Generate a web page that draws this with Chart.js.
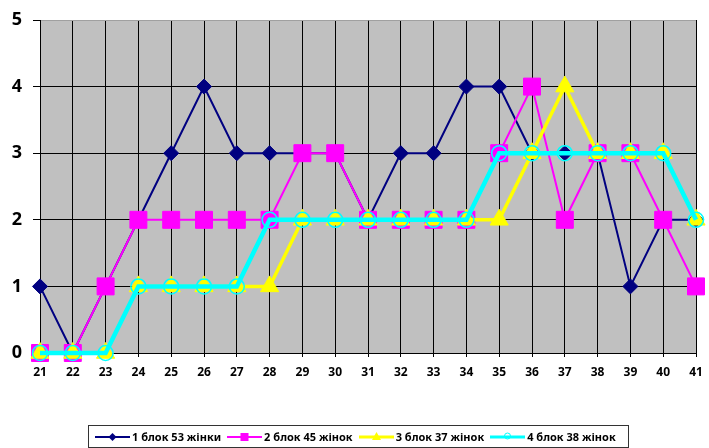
<!DOCTYPE html>
<html>
<head>
<meta charset="utf-8">
<script src="https://cdn.jsdelivr.net/npm/chart.js@4.4.0/dist/chart.umd.min.js"></script>
<style>
  body { margin: 0; background: #fff; }
  #wrap { position: relative; width: 709px; height: 448px; }
  #legend {
    position: absolute; left: 88px; top: 425px; width: 541px; height: 23px;
    box-sizing: border-box; border: 1px solid #333;
    display: flex; align-items: center; padding-left: 6px;
    font: bold 11px "Noto Sans", Arial, sans-serif; color: #000; white-space: nowrap;
  }
  .item { display: flex; align-items: center; margin-right: 6px; }
  .item svg { margin-right: 2px; }
</style>
</head>
<body>
<div id="wrap">
  <canvas id="myChart" width="709" height="448"></canvas>
  <div id="legend"></div>
</div>
<script>
// data
const labels = ['21','22','23','24','25','26','27','28','29','30','31','32','33','34','35','36','37','38','39','40','41'];
const blok1 = [1,0,1,2,3,4,3,3,3,3,2,3,3,4,4,3,3,3,1,2,2];
const blok2 = [0,0,1,2,2,2,2,2,3,3,2,2,2,2,3,4,2,3,3,2,1];
const blok3 = [0,0,0,1,1,1,1,1,2,2,2,2,2,2,2,3,4,3,3,3,2];
const blok4 = [0,0,0,1,1,1,1,2,2,2,2,2,2,2,3,3,3,3,3,3,2];
const names = ['1 блок 53 жінки', '2 блок 45 жінок', '3 блок 37 жінок', '4 блок 38 жінок'];

// plot area background
const plotBg = {
  id: 'plotBg',
  beforeDraw(chart) {
    const a = chart.chartArea, c = chart.ctx;
    c.save();
    c.fillStyle = '#c0c0c0';
    c.fillRect(a.left, a.top, a.right - a.left, a.bottom - a.top);
    c.restore();
  }
};

Chart.defaults.font.family = '"Noto Sans", Arial, sans-serif';
Chart.defaults.color = '#000';

new Chart('myChart', {
  type: 'line',
  data: {
    labels: labels,
    datasets: [{
      label: names[0], data: blok1,
      borderColor: '#000080', backgroundColor: '#000080', borderWidth: 2,
      pointStyle: 'rectRot', pointRadius: 7.5, pointBorderWidth: 1,
      order: 3, clip: false
    }, {
      label: names[1], data: blok2,
      borderColor: '#ff00ff', backgroundColor: '#ff00ff', borderWidth: 2,
      pointStyle: 'rect', pointRadius: 12, pointBorderWidth: 1,
      order: 2, clip: false
    }, {
      label: names[2], data: blok3,
      borderColor: '#ffff00', backgroundColor: '#ffff00', borderWidth: 3.5,
      pointStyle: 'triangle', pointRadius: 10.5, pointBorderWidth: 1,
      order: 1, clip: false
    }, {
      label: names[3], data: blok4,
      borderColor: '#00ffff', backgroundColor: 'rgba(0,0,0,0)', borderWidth: 4.5,
      pointStyle: 'circle', pointRadius: 7.5, pointBorderWidth: 1.5,
      order: 0, clip: false
    }]
  },
  options: {
    responsive: false,
    devicePixelRatio: 1,
    animation: false,
    events: [],
    layout: { padding: { top: 20, right: 4.5, left: 0, bottom: 0 } },
    plugins: { legend: { display: false }, tooltip: { enabled: false } },
    scales: {
      x: {
        offset: false,
        grid: { color: '#000', lineWidth: 1, tickLength: 4, tickColor: '#000' },
        border: { color: '#000', width: 1 },
        ticks: { font: { size: 12, weight: 'bold' }, color: '#000', padding: 8, autoSkip: false, maxRotation: 0 },
        afterFit(s) { s.height = 95; s.paddingLeft = 0; s.paddingRight = 0; }
      },
      y: {
        min: 0, max: 5,
        grid: {
          color: (ctx) => ctx.tick && ctx.tick.value === 5 ? '#a0a0a0' : '#000',
          lineWidth: 1, tickLength: 7, tickColor: '#000'
        },
        border: { color: '#000', width: 1 },
        ticks: { stepSize: 1, font: { size: 18, weight: 'bold' }, color: '#000', padding: 11 },
        afterFit(s) { s.width = 40; s.paddingTop = 0; s.paddingBottom = 0; }
      }
    }
  },
  plugins: [plotBg]
});

// legend
const icons = [
  '<line x1="0" y1="6" x2="35" y2="6" stroke="#000080" stroke-width="2"/><polygon points="17.5,2 21.5,6 17.5,10 13.5,6" fill="#000080"/>',
  '<line x1="0" y1="6" x2="35" y2="6" stroke="#ff00ff" stroke-width="2"/><rect x="13.5" y="2" width="8" height="8" fill="#ff00ff"/>',
  '<line x1="0" y1="6" x2="35" y2="6" stroke="#ffff00" stroke-width="3"/><polygon points="17.5,1 22,9 13,9" fill="#ffff00"/>',
  '<line x1="0" y1="6" x2="35" y2="6" stroke="#00ffff" stroke-width="3"/><circle cx="17.5" cy="5" r="3" fill="none" stroke="#00ffff" stroke-width="1"/>'
];
let legend = document.getElementById('legend');
names.forEach((name, i) => {
  legend.innerHTML += '<span class="item"><svg width="35" height="12">' + icons[i] + '</svg>' + name + '</span>';
});
</script>
</body>
</html>
